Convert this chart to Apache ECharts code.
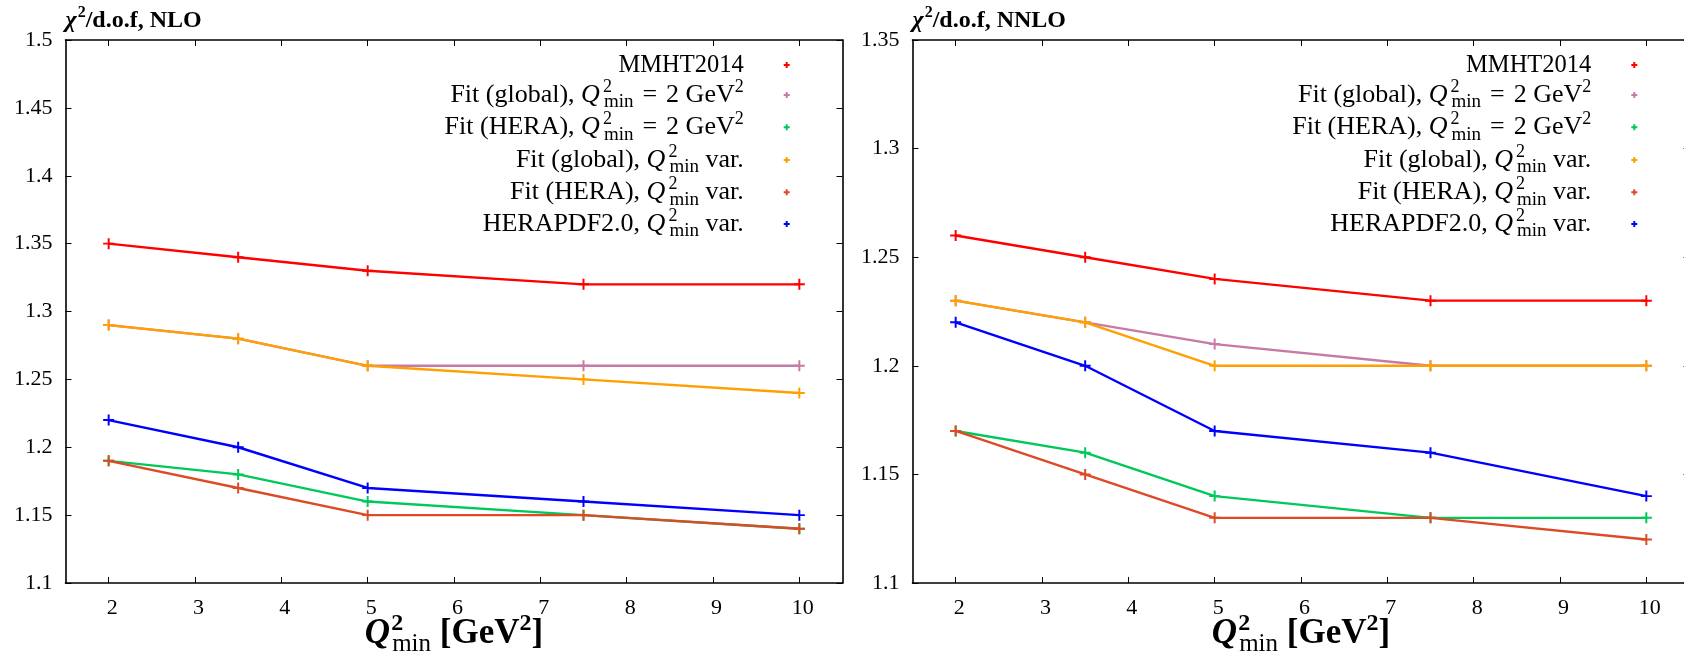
<!DOCTYPE html>
<html><head><meta charset="utf-8">
<script src="https://cdn.jsdelivr.net/npm/echarts@6/dist/echarts.min.js"></script>
<style>html,body{margin:0;padding:0;background:#fff}#c{width:1684px;height:657px}</style>
</head><body><div id="c"></div>
<script>
// ---------- data ----------
const xValues = [2, 3.5, 5, 7.5, 10];
const xTickValues = [2, 3, 4, 5, 6, 7, 8, 9, 10];
const nloYTicks = [1.1, 1.15, 1.2, 1.25, 1.3, 1.35, 1.4, 1.45, 1.5];
const nnloYTicks = [1.1, 1.15, 1.2, 1.25, 1.3, 1.35];

const seriesNames = [
  'MMHT2014',
  'Fit (global), Q2min = 2 GeV2',
  'Fit (HERA), Q2min = 2 GeV2',
  'Fit (global), Q2min var.',
  'Fit (HERA), Q2min var.',
  'HERAPDF2.0, Q2min var.'
];
const seriesColors = ['#ff0000', '#c77aa6', '#00c85a', '#ff9f00', '#dc4a26', '#0000ff'];

// NLO
const nloMMHT      = [1.35, 1.34, 1.33, 1.32, 1.32];
const nloGlobal2   = [1.29, 1.28, 1.26, 1.26, 1.26];
const nloHera2     = [1.19, 1.18, 1.16, 1.15, 1.14];
const nloGlobalVar = [1.29, 1.28, 1.26, 1.25, 1.24];
const nloHeraVar   = [1.19, 1.17, 1.15, 1.15, 1.14];
const nloHerapdf   = [1.22, 1.20, 1.17, 1.16, 1.15];
// NNLO
const nnloMMHT      = [1.26, 1.25, 1.24, 1.23, 1.23];
const nnloGlobal2   = [1.23, 1.22, 1.21, 1.20, 1.20];
const nnloHera2     = [1.17, 1.16, 1.14, 1.13, 1.13];
const nnloGlobalVar = [1.23, 1.22, 1.20, 1.20, 1.20];
const nnloHeraVar   = [1.17, 1.15, 1.13, 1.13, 1.12];
const nnloHerapdf   = [1.22, 1.20, 1.17, 1.16, 1.14];

const panelTitles = ['NLO', 'NNLO'];

// ---------- styling helpers ----------
const FF = 'Liberation Serif';
function lineH(base) { return Math.round(base * 1.3); }
function richSet(base, bold, subBold, qPad) {
  const w = bold ? 'bold' : 'normal';
  const s = Math.round(base * 0.68);
  const sm = Math.round(base * 0.72);
  const H = lineH(base);
  const common = {fontFamily: FF, color: '#000', align: 'left'};
  return {
    r:  Object.assign({}, common, {fontSize: base, fontWeight: w, lineHeight: H}),
    q:  Object.assign({}, common, {fontSize: base, fontWeight: w, fontStyle: 'italic', lineHeight: H,
          padding: [0, Math.round(base * qPad), 0, 0]}),
    eq: Object.assign({}, common, {fontSize: base, fontWeight: w, lineHeight: H,
          padding: [0, Math.round(base * 0.33), 0, Math.round(base * 0.33)]}),
    s0: Object.assign({}, common, {fontSize: s, fontWeight: w, lineHeight: s, height: Math.round(base * 0.7),
          verticalAlign: 'top', width: 1}),
    s:  Object.assign({}, common, {fontSize: s, fontWeight: w, lineHeight: s, height: Math.round(base * 0.7),
          verticalAlign: 'top'}),
    m:  Object.assign({}, common, {fontSize: sm, fontWeight: subBold ? 'bold' : 'normal', lineHeight: sm,
          height: Math.round(base * 0.74), verticalAlign: 'bottom'}),
    gap: Object.assign({}, common, {fontSize: base, lineHeight: H, width: 35})
  };
}
const legendLabels = {
  'MMHT2014': '{r|MMHT2014}',
  'Fit (global), Q2min = 2 GeV2': '{r|Fit (global), }{q|Q}{s0|2}{m|min}{eq|=}{r|2 GeV}{s|2}',
  'Fit (HERA), Q2min = 2 GeV2': '{r|Fit (HERA), }{q|Q}{s0|2}{m|min}{eq|=}{r|2 GeV}{s|2}',
  'Fit (global), Q2min var.': '{r|Fit (global), }{q|Q}{s0|2}{m|min}{r| var.}',
  'Fit (HERA), Q2min var.': '{r|Fit (HERA), }{q|Q}{s0|2}{m|min}{r| var.}',
  'HERAPDF2.0, Q2min var.': '{r|HERAPDF2.0, }{q|Q}{s0|2}{m|min}{r| var.}'
};

const plusSymbol = 'path://M4.1,0H5.9V4.1H10V5.9H5.9V10H4.1V5.9H0V4.1H4.1Z';
const plusIcon = 'path://M2,0H4V2H6V4H4V6H2V4H0V2H2Z';

const panels = [
  {yTicks: nloYTicks, data: [nloMMHT, nloGlobal2, nloHera2, nloGlobalVar, nloHeraVar, nloHerapdf]},
  {yTicks: nnloYTicks, data: [nnloMMHT, nnloGlobal2, nnloHera2, nnloGlobalVar, nnloHeraVar, nnloHerapdf]}
];

const gridLeft = [65.5, 912.5];
const gridW = 777, gridTop = 40, gridH = 543;
const legendRight = [894.3, 46.7];
const legendRowCenters = [62.3, 95, 127.3, 160, 192.3, 224];

const grids = [], xAxes = [], yAxes = [], series = [], legends = [], titles = [];
const lineCol = '#000';
const legendBaseFirst = 24.5, legendBase = 26, axisNameBase = 35, titleBase = 24;
const legendRichFirst = richSet(legendBaseFirst, false, false, 0.1);
const legendRich = richSet(legendBase, false, false, 0.1);
const axisNameRich = richSet(axisNameBase, true, false, 0.03);
const titleRich = richSet(titleBase, true, true, 0.03);

panels.forEach((p, pi) => {
  grids.push({left: gridLeft[pi], top: gridTop, width: gridW, height: gridH, show: false,
              containLabel: false, outerBoundsMode: 'none'});
  const yMin = p.yTicks[0], yMax = p.yTicks[p.yTicks.length - 1];
  const xBase = {
    type: 'value', gridIndex: pi, min: 1.5, max: 10.5,
    splitLine: {show: false},
    axisLine: {show: true, onZero: false, lineStyle: {color: lineCol, width: 1.6}},
    axisTick: {show: true, inside: true, length: 6, customValues: xTickValues, lineStyle: {color: lineCol, width: 1}}
  };
  xAxes.push(Object.assign({}, xBase, {
    position: 'bottom',
    axisLabel: {show: true, customValues: xTickValues, margin: 14, color: '#000', fontFamily: FF, fontSize: 22,
      padding: [0, 0, 0, 7]},
    name: '{q|Q}{s0|2}{m|min}{r| [GeV}{s|2}{r|]}',
    nameLocation: 'middle', nameGap: 28, nameMoveOverlap: false,
    nameTextStyle: {rich: axisNameRich}
  }));
  xAxes.push(Object.assign({}, xBase, {position: 'top', axisLabel: {show: false}}));
  const yBase = {
    type: 'value', gridIndex: pi, min: yMin, max: yMax,
    splitLine: {show: false},
    axisLine: {show: true, onZero: false, lineStyle: {color: lineCol, width: 1.6}},
    axisTick: {show: true, inside: true, length: 6, customValues: p.yTicks, lineStyle: {color: lineCol, width: 1}}
  };
  yAxes.push(Object.assign({}, yBase, {
    position: 'left',
    axisLabel: {show: true, customValues: p.yTicks, margin: 13, color: '#000', fontFamily: FF, fontSize: 22,
      formatter: v => String(+(+v).toFixed(2))}
  }));
  yAxes.push(Object.assign({}, yBase, {position: 'right', axisLabel: {show: false}}));

  p.data.forEach((vals, si) => {
    series.push({
      type: 'line', name: seriesNames[si],
      xAxisIndex: pi * 2, yAxisIndex: pi * 2,
      data: xValues.map((x, k) => [x, vals[k]]),
      symbol: plusSymbol, symbolSize: 11, showSymbol: true,
      itemStyle: {color: seriesColors[si]},
      lineStyle: {color: seriesColors[si], width: 2.4},
      z: 2 + si, silent: true, animation: false
    });
  });

  seriesNames.forEach((nm, si) => {
    const base = si === 0 ? legendBaseFirst : legendBase;
    // the first entry has no raised/lowered parts, so its box is only the glyph height
    const half = si === 0 ? 9.7 : lineH(base) / 2;
    legends.push({
      data: [nm], orient: 'vertical', align: 'right',
      right: legendRight[pi], top: legendRowCenters[si] - half,
      icon: plusIcon, itemWidth: 6, itemHeight: 6, padding: 0,
      selectedMode: false,
      formatter: n => legendLabels[n] + '{gap| }',
      textStyle: {rich: si === 0 ? legendRichFirst : legendRich}
    });
  });

  titles.push({
    text: '{q|χ}{s|2}{r|/d.o.f, ' + panelTitles[pi] + '}',
    left: gridLeft[pi], top: 20.3 - lineH(titleBase) / 2, padding: 0,
    textStyle: {rich: titleRich}
  });
});

const chart = echarts.init(document.getElementById('c'), null, {renderer: 'canvas'});
chart.setOption({
  animation: false,
  backgroundColor: '#fff',
  title: titles,
  grid: grids,
  xAxis: xAxes,
  yAxis: yAxes,
  legend: legends,
  series: series
});
</script>
</body></html>
